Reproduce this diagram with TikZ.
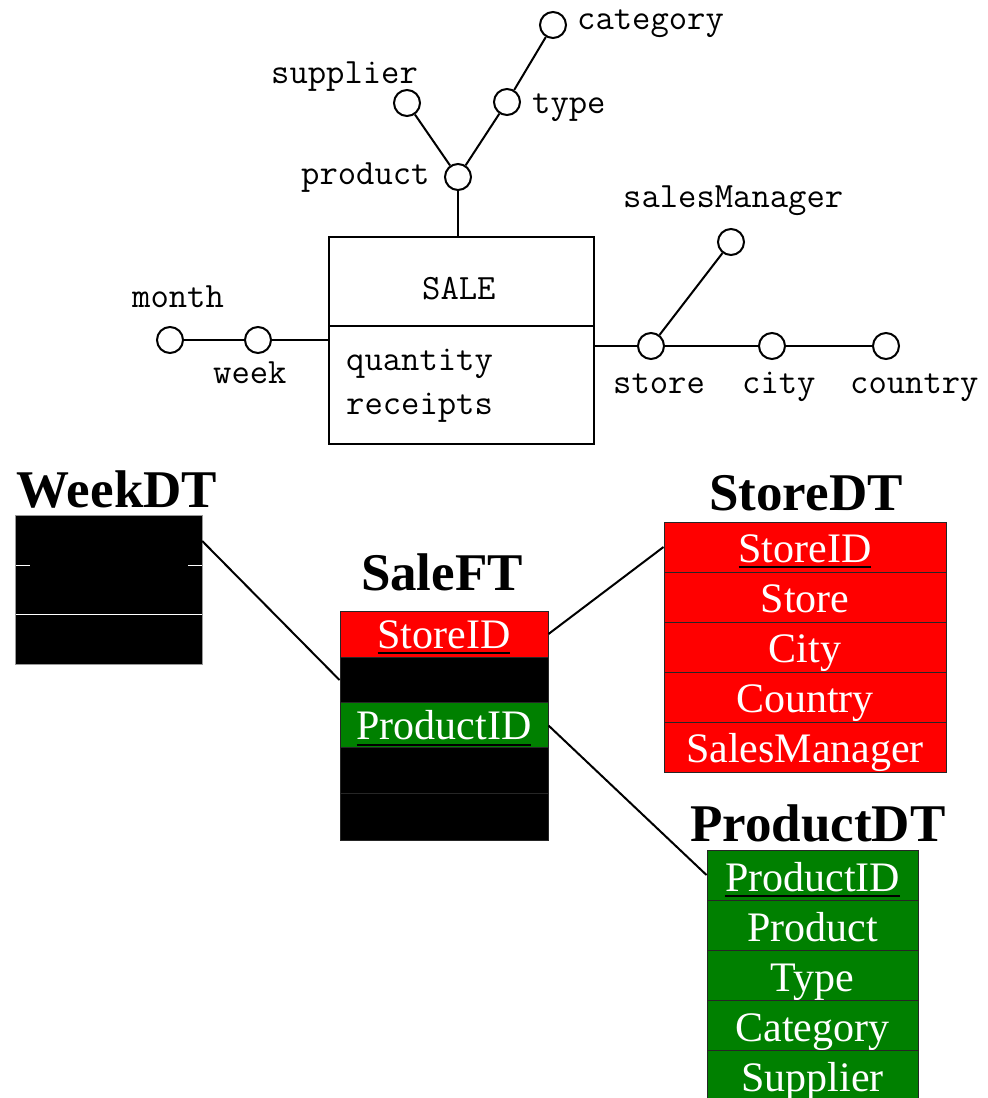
\documentclass[tikz,border=0pt]{standalone}
\usepackage{fontspec}
\setmainfont{Liberation Serif}
\definecolor{keyred}{RGB}{255,0,0}
\definecolor{keygreen}{RGB}{0,128,0}
\newsavebox\keybox
% key attribute: white text with a black underline
\newcommand\keyname[1]{\sbox\keybox{#1}\rlap{\color{black}\rule[-6pt]{\wd\keybox}{2pt}}\usebox\keybox}
\begin{document}
\begin{tikzpicture}[x=1pt,y=-1pt,
  attr/.style={circle, draw, line width=2pt, minimum size=26pt, inner sep=0pt},
  lbl/.style={font=\ttfamily\fontsize{35.6}{35.6}\selectfont, inner sep=0pt, anchor=base west},
  conn/.style={line width=2pt},
  link/.style={line width=2pt},
  fact/.style={rectangle, draw, line width=2pt, inner sep=0pt},
  ttl/.style={font=\bfseries\fontsize{53}{53}\selectfont, inner sep=0pt, anchor=base},
  tabrow/.style={rectangle, draw=black!85, line width=1pt, inner sep=0pt, text=white,
    font=\fontsize{42}{42}\selectfont, text height=40pt, text depth=10pt, minimum height=50pt},
  salerow/.style={tabrow, text height=37pt, text depth=9pt, minimum height=46pt, minimum width=208pt},
  storerow/.style={tabrow, fill=keyred, minimum width=282pt},
  prodrow/.style={tabrow, fill=keygreen, minimum width=211pt, text height=41pt, text depth=9pt},
  weekrow/.style={rectangle, fill=black, draw=none, inner sep=0pt, minimum width=186pt}
]
\useasboundingbox (0,0) rectangle (988,1098);

% ---------------- conceptual schema ----------------
\node[fact, minimum width=265pt, minimum height=207pt] (sale) at (461.5,340.5) {};
\draw[line width=2pt] (329,326) -- (594,326);
\node[lbl] (saleT) at (422,299) {SALE};
\node[lbl] (qty) at (346,370) {quantity};
\node[lbl] (rec) at (346,414) {receipts};

\node[attr] (month) at (170,340) {};
\node[attr] (week) at (258,340) {};
\node[attr] (product) at (458,177) {};
\node[attr] (supplier) at (407,103) {};
\node[attr] (type) at (507,102) {};
\node[attr] (category) at (553,25) {};
\node[attr] (store) at (651,346) {};
\node[attr] (city) at (772,346) {};
\node[attr] (country) at (886,346) {};
\node[attr] (smgr) at (731,242) {};

\draw[conn] (month) -- (week);
\draw[conn] (week) -- (week -| sale.west);
\draw[conn] (product) -- (product |- sale.north);
\draw[conn] (supplier) -- (product);
\draw[conn] (type) -- (product);
\draw[conn] (category) -- (type);
\draw[conn] (store) -- (store -| sale.east);
\draw[conn] (store) -- (city);
\draw[conn] (city) -- (country);
\draw[conn] (smgr) -- (store);

\node[lbl] (categoryL) at (577,29) {category};
\node[lbl] (supplierL) at (271,83) {supplier};
\node[lbl] (typeL) at (532,113) {type};
\node[lbl] (productL) at (301,184) {product};
\node[lbl] (monthL) at (132,307) {month};
\node[lbl] (weekL) at (213,383) {week};
\node[lbl] (smgrL) at (623,207) {salesManager};
\node[lbl] (storeL) at (613,393) {store};
\node[lbl] (cityL) at (742,393) {city};
\node[lbl] (countryL) at (850,393) {country};

% ---------------- logical schema ----------------
% WeekDT
\node[ttl] (weekT) at (117,507) {WeekDT};
\node[weekrow, minimum height=50pt] (w1) at (109,541) {};
\node[weekrow, minimum height=49pt] (w2) at (109,590.5) {};
\node[weekrow, minimum height=49pt] (w3) at (109,639.5) {};
\draw[black!40, line width=1pt] (w1.north west) rectangle (w3.south east);
\draw[white, line width=1pt] (w3.north west) -- (w3.north east);
\draw[white, line width=1pt] (w2.north west) -- ++(14,0);
\draw[white, line width=1pt] (w2.north east) -- ++(-14,0);

% SaleFT
\node[ttl] (saleftT) at (442,590) {SaleFT};
\node[salerow, fill=keyred] (s1) at (444,634) {\keyname{StoreID}};
\node[salerow, fill=black] (s2) at (444,680) {};
\node[salerow, fill=keygreen] (s3) at (444,725.5) {\keyname{ProductID}};
\node[salerow, fill=black, minimum height=45pt] (s4) at (444,770.5) {};
\node[salerow, fill=black, minimum height=47pt] (s5) at (444,816.5) {};

% StoreDT
\node[ttl] (storeT) at (806,510) {StoreDT};
\node[storerow] (st1) at (805,547) {\keyname{StoreID}};
\node[storerow] (st2) at (805,597) {Store};
\node[storerow] (st3) at (805,647) {City};
\node[storerow] (st4) at (805,697) {Country};
\node[storerow] (st5) at (805,747) {SalesManager};

% ProductDT
\node[ttl] (prodT) at (818,841) {ProductDT};
\node[prodrow] (p1) at (812.5,875) {\keyname{ProductID}};
\node[prodrow] (p2) at (812.5,925) {Product};
\node[prodrow] (p3) at (812.5,975) {Type};
\node[prodrow] (p4) at (812.5,1025) {Category};
\node[prodrow] (p5) at (812.5,1075) {Supplier};

% foreign key links
\draw[link] (w1.east) -- (s2.west);
\draw[link] (s1.east) -- (st1.west);
\draw[link] (s3.east) -- (p1.west);
\end{tikzpicture}
\end{document}
